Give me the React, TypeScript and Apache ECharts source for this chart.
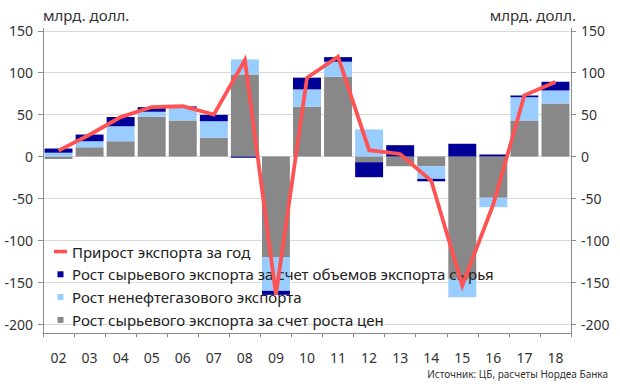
import React, { useEffect, useRef } from 'react';
import * as echarts from 'echarts';

const years = ['02', '03', '04', '05', '06', '07', '08', '09', '10', '11', '12', '13', '14', '15', '16', '17', '18'];
const exportGrowth = [7, 26, 47, 59, 60, 50, 115, -165, 94, 119, 7.5, 3, -29, -154, -57, 73, 89];
const priceGrowth = [-3, 11, 18.3, 47.4, 43, 22.3, 98, -120, 59.4, 95.2, -6.8, -11.6, -11.6, -146, -49.3, 43, 63.3];
const nonOilGrowth = [4.5, 7.2, 17.9, 6, 15.2, 19.8, 17.9, -40.3, 20.7, 17.9, 32.3, 0, -15.1, -22, -11.2, 27.8, 15.5];
const volumeGrowth = [5, 8, 10.8, 5.5, 1.6, 7.6, -1.5, -4.8, 14, 5.5, -17.9, 13.5, -2.9, 15.2, 2.4, 2, 10.4];
const yTicks = [-200, -150, -100, -50, 0, 50, 100, 150];

const names = {
  line: 'Прирост экспорта за год',
  volume: 'Рост сырьевого экспорта за счет объемов экспорта сырья',
  nonOil: 'Рост ненефтегазового экспорта',
  price: 'Рост сырьевого экспорта за счет роста цен',
};

const FONT = 'Noto Sans';
const AXIS_COLOR = '#8c8c8c';
const TEXT_COLOR = '#333333';

export default function App() {
  const ref = useRef<HTMLDivElement>(null);
  useEffect(() => {
    if (!ref.current) return;
    const chart = echarts.init(ref.current, undefined, { renderer: 'svg' });
    const yAxisBase = (position: 'left' | 'right', split: boolean) => ({
      type: 'value',
      min: -211,
      max: 153,
      position,
      axisLine: { show: true, lineStyle: { color: AXIS_COLOR, width: 1 } },
      axisTick: { show: true, length: 5, customValues: yTicks, lineStyle: { color: AXIS_COLOR } },
      axisLabel: { customValues: yTicks, margin: 10, fontSize: 14, color: TEXT_COLOR, fontFamily: FONT },
      splitLine: { show: split, lineStyle: { color: '#d9d9d9', width: 1 } },
    });
    chart.setOption({
      animation: false,
      backgroundColor: '#ffffff',
      title: [
        { text: 'млрд. долл.', left: 43, top: 7, padding: 0, textStyle: { fontSize: 15, fontWeight: 'normal', color: TEXT_COLOR, fontFamily: FONT } },
        { text: 'млрд. долл.', right: 44, top: 7, padding: 0, textStyle: { fontSize: 15, fontWeight: 'normal', color: TEXT_COLOR, fontFamily: FONT } },
        { text: 'Источник: ЦБ, расчеты Нордеа Банка', right: 12, top: 368, padding: 0, textStyle: { fontSize: 10, lineHeight: 11, fontWeight: 'normal', color: TEXT_COLOR, fontFamily: FONT } },
      ],
      grid: { left: 43, right: 49, top: 28.3, bottom: 50.7, containLabel: false },
      legend: {
        orient: 'vertical',
        left: 54,
        top: 244,
        padding: 0,
        itemWidth: 13,
        itemHeight: 14,
        itemGap: 7.8,
        itemStyle: { borderWidth: 0 },
        textStyle: { fontSize: 15, color: '#222222', fontFamily: FONT },
        data: [
          { name: names.line, icon: 'path://M0,0M13,14M0,5.3h13v3.5h-13z', itemStyle: { color: '#ff5050', borderWidth: 0 } },
          { name: names.volume, icon: 'path://M0,0M13,14M3.5,4h6v6h-6z' },
          { name: names.nonOil, icon: 'path://M0,0M13,14M3.5,4h6v6h-6z' },
          { name: names.price, icon: 'path://M0,0M13,14M3.5,4h6v6h-6z' },
        ],
      },
      xAxis: {
        type: 'category',
        data: years,
        boundaryGap: true,
        axisLine: { show: true, onZero: false, lineStyle: { color: AXIS_COLOR, width: 1 } },
        axisTick: { show: true, length: 4, lineStyle: { color: AXIS_COLOR } },
        axisLabel: { fontSize: 14, lineHeight: 14, margin: 17, color: TEXT_COLOR, fontFamily: FONT },
        splitLine: { show: false },
      },
      yAxis: [yAxisBase('left', true), yAxisBase('right', false)],
      series: [
        { name: names.price, type: 'bar', stack: 'total', data: priceGrowth, itemStyle: { color: '#888888' }, barCategoryGap: '10%' },
        { name: names.nonOil, type: 'bar', stack: 'total', data: nonOilGrowth, itemStyle: { color: '#99ccff' } },
        { name: names.volume, type: 'bar', stack: 'total', data: volumeGrowth, itemStyle: { color: '#000099' } },
        { name: names.line, type: 'line', data: exportGrowth, symbol: 'none', z: 5, lineStyle: { color: '#ff5252', width: 3.8, join: 'miter' }, itemStyle: { color: '#ff5252' } },
      ],
    });
    return () => chart.dispose();
  }, []);
  return <div ref={ref} style={{ position: 'absolute', left: 0, top: 0, width: 620, height: 384 }} />;
}
